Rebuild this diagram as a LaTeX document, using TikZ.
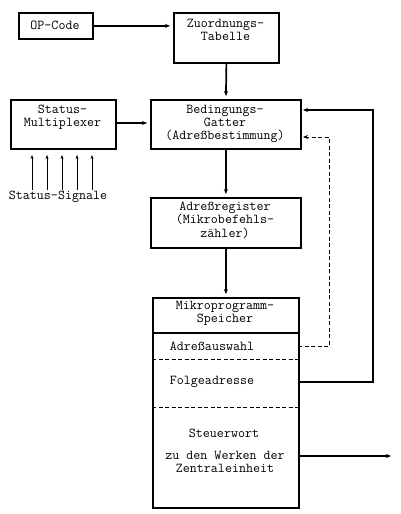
\documentclass[tikz,border=0pt]{standalone}
\usetikzlibrary{arrows.meta}
\begin{document}
\begin{tikzpicture}[x=1pt,y=-1pt,
  box/.style={draw,line width=1.8pt,inner sep=0pt,anchor=north west},
  txt/.style={font=\ttfamily\fontsize{13.6}{13.2}\selectfont,align=center,inner sep=0pt},
  conn/.style={line width=1.7pt,-{Stealth[length=5pt,width=4pt]},shorten >=3pt},
  sigarrow/.style={line width=0.7pt,-{Stealth[length=4pt,width=3pt]}},
  dconn/.style={line width=0.8pt,dash pattern=on 4pt off 2.5pt,-{Stealth[length=5pt,width=4pt]},shorten >=3pt}]
\useasboundingbox (0,0) rectangle (400,514);
% boxes
\node[box,minimum width=74pt,minimum height=26pt] (op) at (18,12) {};
\node[txt] (optxt) at (55,25) {OP-Code};
\node[box,minimum width=105pt,minimum height=50pt] (zu) at (173,12) {};
\node[txt,anchor=north] (zutxt) at (225.5,19) {Zuordnungs-\\Tabelle};
\node[box,minimum width=105pt,minimum height=49pt] (sm) at (10,99) {};
\node[txt,anchor=north] (smtxt) at (62.5,105) {Status-\\Multiplexer};
\node[box,minimum width=150pt,minimum height=49pt] (bg) at (150,99) {};
\node[txt,anchor=north] (bgtxt) at (225,105) {Bedingungs-\\Gatter\\(Adreßbestimmung)};
\node[box,minimum width=150pt,minimum height=50pt] (ar) at (150,197) {};
\node[txt,anchor=north] (artxt) at (225,202) {Adreßregister\\(Mikrobefehls-\\zähler)};
\node[box,minimum width=146pt,minimum height=210pt] (mp) at (152,297) {};
\node[txt,anchor=north] (mptxt) at (225,301) {Mikroprogramm-\\Speicher};
\node[txt] (aa) at (212,346) {Adreßauswahl};
\node[txt] (fa) at (212,382) {Folgeadresse};
\node[txt] (sw) at (224,433) {Steuerwort};
\node[txt,anchor=north] (zw) at (225,451) {zu den Werken der\\Zentraleinheit};
\node[txt] (ss) at (58,197) {Status-Signale};
% section lines
\coordinate (l1l) at (152,333); \coordinate (l1r) at (298,333);
\draw[line width=1.6pt] (l1l) -- (l1r);
\coordinate (l2l) at (152,359); \coordinate (l2r) at (298,359);
\draw[line width=0.8pt,dash pattern=on 4pt off 2.5pt] (l2l) -- (l2r);
\coordinate (l3l) at (152,407); \coordinate (l3r) at (298,407);
\draw[line width=0.8pt,dash pattern=on 4pt off 2.5pt] (l3l) -- (l3r);
% connectors
\draw[conn] (op.east) -- (zu.west |- op.east);
\draw[conn] (zu.south) -- (bg.north);
\draw[conn] (sm.east |- 0,123) -- (bg.west |- 0,123);
\draw[conn] (bg.south) -- (ar.north);
\draw[conn] (ar.south) -- (mp.north);
\coordinate (d1) at (298,346); \coordinate (d2) at (329,346); \coordinate (d3) at (329,137); \coordinate (d4) at (300,137);
\draw[dconn] (d1) -- (d2) -- (d3) -- (d4);
\coordinate (f1) at (298,382); \coordinate (f2) at (373,382); \coordinate (f3) at (373,110); \coordinate (f4) at (300,110);
\draw[conn] (f1) -- (f2) -- (f3) -- (f4);
\coordinate (s1) at (298,456); \coordinate (s2) at (391,456);
\draw[line width=1.7pt,-{Stealth[length=5pt,width=4pt]}] (s1) -- (s2);
\foreach \x/\n in {32/a,47/b,62/c,77/d,92/e}{
  \coordinate (sig\n) at (\x,190);
  \coordinate (sigt\n) at (\x,155);
  \draw[sigarrow] (sig\n) -- (sigt\n);
}
\end{tikzpicture}
\end{document}
